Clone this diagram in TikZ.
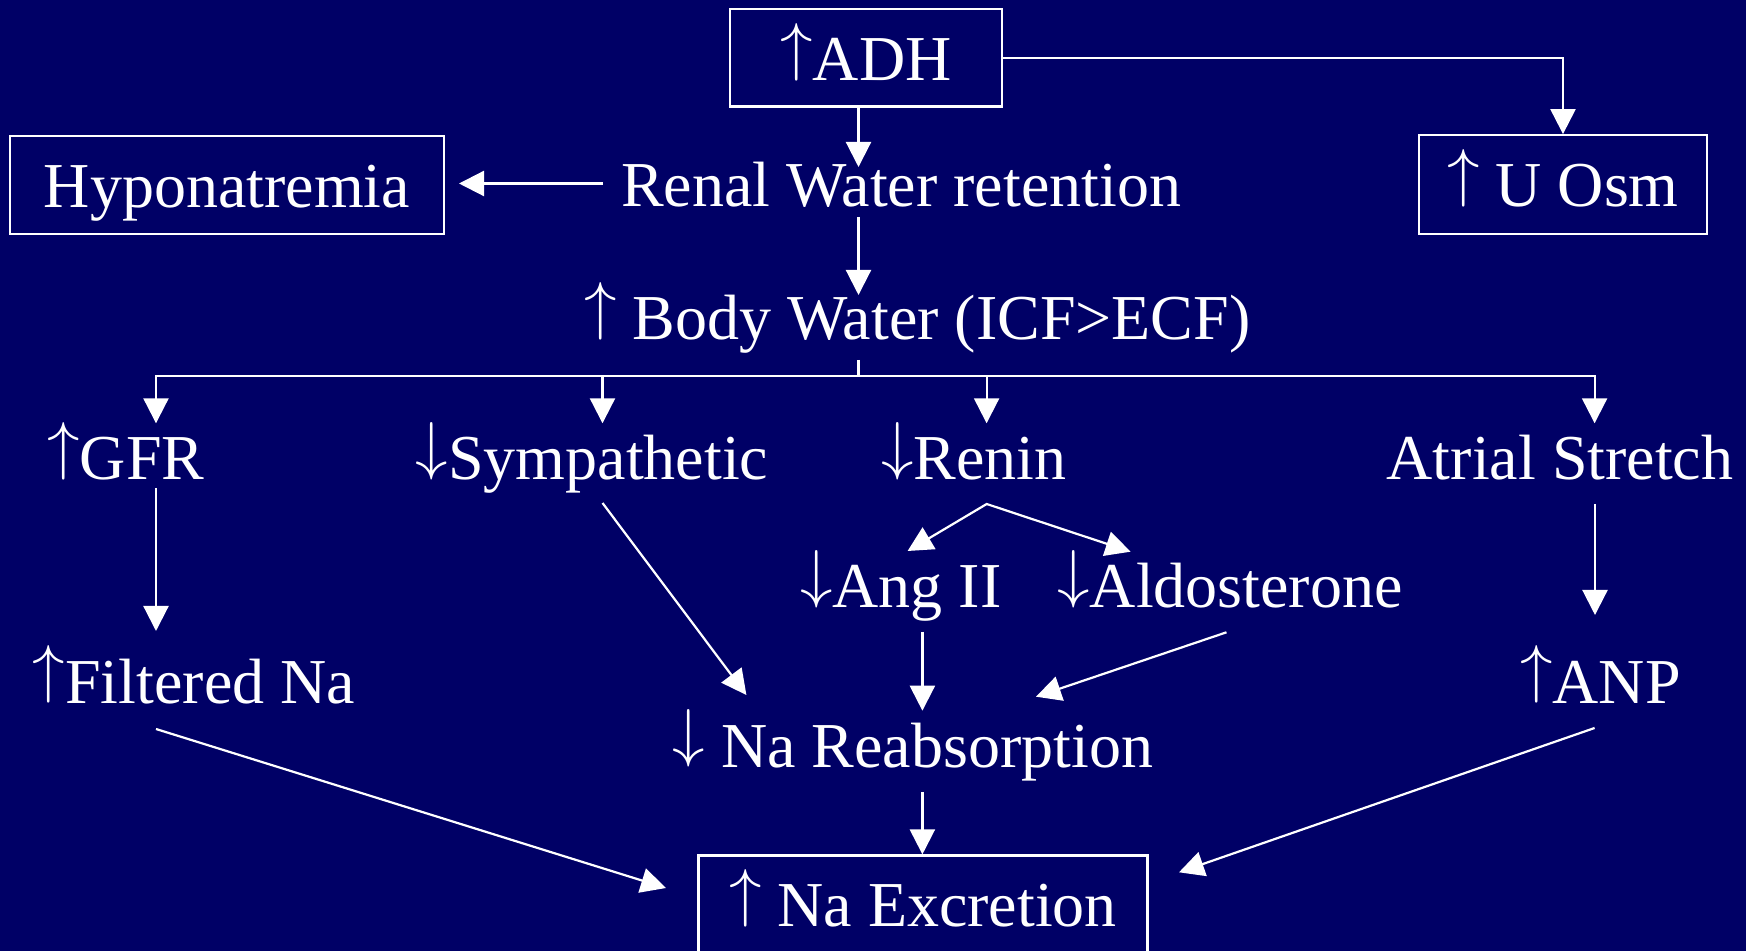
\documentclass[tikz,border=0pt]{standalone}
\usepackage{graphicx}
\usepackage{fontspec}
\setmainfont{Liberation Serif}
\usetikzlibrary{arrows.meta}
\definecolor{navy}{RGB}{0,0,102}
\newcommand{\upa}{\raisebox{\depth}{\resizebox*{!}{0.9em}{$\uparrow$}}}
\newcommand{\dna}{\raisebox{\depth}{\resizebox*{!}{0.9em}{$\downarrow$}}}
\begin{document}
\begin{tikzpicture}[x=0.5pt,y=-0.5pt,
  every node/.style={text=white,font=\fontsize{32pt}{38pt}\selectfont},
  txt/.style={anchor=base,inner sep=0pt},
  boxst/.style={draw=white,line width=1.1pt,inner sep=2pt,text depth=0pt},
  ln/.style={draw=white,line width=1.1pt},
  arr/.style={ln,-{Triangle[length=12.5pt,width=12.5pt]}},
  darr/.style={ln,{Triangle[length=12.5pt,width=12.5pt]}-{Triangle[length=12.5pt,width=12.5pt]}}]
\useasboundingbox (0,0) rectangle (1746,951);
\fill[navy] (0,0) rectangle (1746,951);
\clip (0,0) rectangle (1746,951);
% boxes
\node[boxst,minimum width=136pt,minimum height=48.75pt,text height=23.25pt] (adh) at (866,57.75) {\upa ADH};
\node[boxst,minimum width=217pt,minimum height=49pt,text height=23pt] (hypo) at (227,185) {Hyponatremia};
\node[boxst,minimum width=144.2pt,minimum height=49.5pt,text height=22.3pt] (uosm) at (1563,184.7) {\upa\ U Osm};
\node[boxst,minimum width=224.5pt,minimum height=48.75pt,text height=22.45pt] (naex) at (923,904.25) {\upa\ Na Excretion};
% plain texts
\node[txt] (rw) at (901,207) {Renal Water retention};
\node[txt] (bw) at (917.5,340) {\upa\ Body Water (ICF>ECF)};
\node[txt] (gfr) at (126,480) {\upa GFR};
\node[txt] (sym) at (592,480) {\dna Sympathetic};
\node[txt] (ren) at (974,480) {\dna Renin};
\node[txt] (atr) at (1560,479.5) {Atrial Stretch};
\node[txt] (ang) at (901,608) {\dna Ang II};
\node[txt] (ald) at (1230,608) {\dna Aldosterone};
\node[txt] (fna) at (194,703.5) {\upa Filtered Na};
\node[txt] (anp) at (1600.5,703.5) {\upa ANP};
\node[txt] (nar) at (913,767.5) {\dna\ Na Reabsorption};
% connector end points
\coordinate (a1) at (858.5,106.5); \coordinate (a2) at (858.5,167);
\coordinate (h1) at (602.5,183.5); \coordinate (h2) at (459,183.5);
\coordinate (r1) at (858.5,217);   \coordinate (r2) at (858.5,295);
\coordinate (b1) at (858.5,360);   \coordinate (b2) at (858.5,376);
\coordinate (t1) at (156,423.3);   \coordinate (t2) at (602.5,423.3);
\coordinate (t3) at (986.6,423.3); \coordinate (t4) at (1594.6,423.3);
\coordinate (g1) at (156,488);     \coordinate (g2) at (156,631);
\coordinate (s1) at (602.5,503);   \coordinate (s2) at (746.4,695);
\coordinate (rn) at (986.7,504);
\coordinate (an) at (907.6,551);   \coordinate (al) at (1130.6,551.7);
\coordinate (n1) at (922.4,632);   \coordinate (n2) at (922.4,710.7);
\coordinate (d1) at (1226.5,632.3);\coordinate (d2) at (1036,696.7);
\coordinate (p1) at (1595,504);    \coordinate (p2) at (1595,615);
\coordinate (f1) at (156,729);     \coordinate (f2) at (666,888);
\coordinate (q1) at (1594.6,728);  \coordinate (q2) at (1179,872.3);
\coordinate (e1) at (922.4,792);
% connectors
\draw[arr] (adh.east) -| (uosm.north);
\draw[arr] (a1) -- (a2);
\draw[arr] (h1) -- (h2);
\draw[arr] (r1) -- (r2);
\draw[ln] (b1) -- (b2);
\draw[arr] (b2) -| (t1);
\draw[arr] (b2) -| (t2);
\draw[arr] (b2) -| (t3);
\draw[arr] (b2) -| (t4);
\draw[arr] (g1) -- (g2);
\draw[arr] (s1) -- (s2);
\draw[darr] (an) -- (rn) -- (al);
\draw[arr] (n1) -- (n2);
\draw[arr] (d1) -- (d2);
\draw[arr] (p1) -- (p2);
\draw[arr] (f1) -- (f2);
\draw[arr] (q1) -- (q2);
\draw[arr] (e1) -- (naex.north -| e1);
\end{tikzpicture}
\end{document}
